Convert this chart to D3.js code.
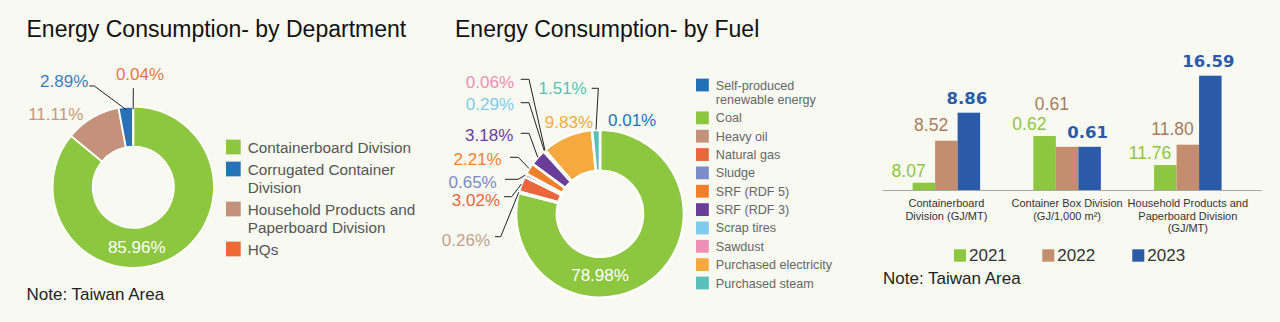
<!DOCTYPE html>
<html>
<head>
<meta charset="utf-8">
<script src="https://cdn.jsdelivr.net/npm/d3@7/dist/d3.min.js"></script>
<style>
  html, body { margin: 0; padding: 0; background: #f8f9f1; }
  svg { display: block; font-family: "Liberation Sans", Arial, sans-serif; }
</style>
</head>
<body>
<svg id="chart" width="1280" height="322"></svg>
<script>
// ---- Energy consumption by department (share of total, %) ----
const deptNames = ["Containerboard Division", "Corrugated Container Division", "Household Products and Paperboard Division", "HQs"];
const deptShares = [85.96, 2.89, 11.11, 0.04];
const deptColors = ["#8dc63f", "#2a72b8", "#c4917a", "#ee6a35"];
// clockwise order of the ring starting at 12 o'clock
const deptRingOrder = [0, 2, 1, 3];

// ---- Energy consumption by fuel (share of total, %) ----
const fuelNames = ["Self-produced renewable energy", "Coal", "Heavy oil", "Natural gas", "Sludge", "SRF (RDF 5)", "SRF (RDF 3)", "Scrap tires", "Sawdust", "Purchased electricity", "Purchased steam"];
const fuelShares = [0.01, 78.98, 0.26, 3.02, 0.65, 2.21, 3.18, 0.29, 0.06, 9.83, 1.51];
const fuelColors = ["#2270b8", "#8dc63f", "#c4917a", "#e9673a", "#7b8cc8", "#f07f29", "#6a3d98", "#7ecbec", "#ee8fb5", "#f5a93f", "#5bbfb9"];

// ---- Energy intensity by division ----
const divisions = ["Containerboard\nDivision (GJ/MT)", "Container Box Division\n(GJ/1,000 m²)", "Household Products and\nPaperboard Division\n(GJ/MT)"];
const years = ["2021", "2022", "2023"];
const intensity2021 = [8.07, 0.62, 11.76];
const intensity2022 = [8.52, 0.61, 11.80];
const intensity2023 = [8.86, 0.61, 16.59];
const yearColors = ["#8dc63f", "#c48e6e", "#2b5ba8"];

const svg = d3.select("#chart");
const fmt = v => v.toFixed(2) + "%";

function wrapLines(text, maxW, size) {
  const ctx = document.createElement("canvas").getContext("2d");
  ctx.font = size + "px 'Liberation Sans', Arial, sans-serif";
  const words = text.split(" ");
  const lines = [];
  let cur = "";
  words.forEach(w => {
    const t = cur ? cur + " " + w : w;
    if (ctx.measureText(t).width > maxW && cur) { lines.push(cur); cur = w; }
    else cur = t;
  });
  if (cur) lines.push(cur);
  return lines;
}

// Titles and notes
svg.append("text").attr("x", 26.5).attr("y", 37).attr("font-size", 23).attr("fill", "#111")
  .text("Energy Consumption- by Department");
svg.append("text").attr("x", 455).attr("y", 37).attr("font-size", 23).attr("fill", "#111")
  .text("Energy Consumption- by Fuel");
svg.append("text").attr("x", 26.5).attr("y", 300).attr("font-size", 17).attr("fill", "#222")
  .text("Note: Taiwan Area");
svg.append("text").attr("x", 883).attr("y", 284).attr("font-size", 17).attr("fill", "#222")
  .text("Note: Taiwan Area");

// Generic donut with outside labels and elbow leader lines
function drawDonut(cfg) {
  const g = svg.append("g").attr("transform", `translate(${cfg.cx},${cfg.cy})`);
  const pie = d3.pie().sort(null).value(d => d.value);
  const arc = d3.arc().innerRadius(cfg.r0).outerRadius(cfg.r1);
  const arcs = pie(cfg.data);
  g.selectAll("path").data(arcs).join("path")
    .attr("d", arc)
    .attr("fill", d => d.data.color)
    .attr("stroke", "#fff")
    .attr("stroke-width", cfg.gap)
    .attr("stroke-linejoin", "miter");

  arcs.forEach(a => {
    const lay = cfg.layout[a.data.key];
    if (!lay) return;
    const mid = (a.startAngle + a.endAngle) / 2;
    const tip = [Math.sin(mid) * cfg.leadR, -Math.cos(mid) * cfg.leadR];
    if (lay.leader) {
      const pts = lay.leader.concat([tip]);
      g.append("path")
        .attr("d", d3.line()(pts))
        .attr("fill", "none").attr("stroke", "#222").attr("stroke-width", 1);
    }
    g.append("text")
      .attr("x", lay.x).attr("y", lay.y + 6)
      .attr("text-anchor", lay.anchor || "middle")
      .attr("font-size", 17)
      .attr("fill", lay.inside ? "#fff" : (lay.color || a.data.color))
      .text(fmt(a.data.value));
  });
}

// Legend with square swatches and wrapped labels
function drawLegend(cfg) {
  const g = svg.append("g");
  let y = cfg.y0;
  cfg.names.forEach((name, i) => {
    const lines = wrapLines(name, cfg.maxW, cfg.size);
    g.append("rect")
      .attr("x", cfg.x).attr("y", y - cfg.box / 2)
      .attr("width", cfg.box).attr("height", cfg.box)
      .attr("fill", cfg.colors[i]);
    const t = g.append("text").attr("font-size", cfg.size).attr("fill", cfg.textColor);
    lines.forEach((ln, k) => {
      t.append("tspan").attr("x", cfg.x + cfg.box + cfg.pad)
        .attr("y", y + k * cfg.lineH + cfg.size * 0.36).text(ln);
    });
    y += cfg.rowH + (lines.length - 1) * cfg.lineH;
  });
}

// ---------- Department donut ----------
drawDonut({
  cx: 133.3, cy: 187.2, r0: 40.5, r1: 80.7, gap: 1.8, leadR: 78,
  data: deptRingOrder.map(i => ({ key: deptNames[i], value: deptShares[i], color: deptColors[i] })),
  layout: {
    "Containerboard Division": { x: 3.4, y: 59.5, inside: true },
    "Household Products and Paperboard Division": { x: -50, y: -72.9, anchor: "end", color: "#c9977f" },
    "Corrugated Container Division": { x: -45, y: -106.2, anchor: "end", color: "#3b7ec0",
      leader: [[-44, -101.2], [-39, -101.2]] },
    "HQs": { x: 6.7, y: -113.2, color: "#ef7443", leader: [[0, -99]] }
  }
});

drawLegend({
  names: deptNames, colors: deptColors, x: 226, y0: 147, box: 14.7, pad: 7,
  size: 15.3, lineH: 18, rowH: 22, maxW: 172, textColor: "#555"
});

// ---------- Fuel donut ----------
drawDonut({
  cx: 600, cy: 213.7, r0: 43, r1: 84, gap: 2.6, leadR: 84,
  data: fuelNames.map((n, i) => ({ key: n, value: fuelShares[i], color: fuelColors[i] })),
  layout: {
    "Coal": { x: 0, y: 61.3, inside: true },
    "Self-produced renewable energy": { x: 8, y: -93.7, anchor: "start", color: "#2472b8" },
    "Purchased electricity": { x: -7, y: -92, anchor: "end", color: "#f5a93f" },
    "Purchased steam": { x: -13.3, y: -125.4, anchor: "end", color: "#5bbfb3",
      leader: [[-8.3, -125.4], [-1.7, -125.4]] },
    "Sawdust": { x: -86, y: -132, anchor: "end", color: "#ec8fb3",
      leader: [[-79.3, -134.4], [-71, -134.4]] },
    "Scrap tires": { x: -86, y: -109.4, anchor: "end", color: "#7fcbea",
      leader: [[-79.3, -111], [-71, -111]] },
    "SRF (RDF 3)": { x: -86.7, y: -78.7, anchor: "end", color: "#6a3d98",
      leader: [[-79.3, -80.4], [-71, -80.4]] },
    "SRF (RDF 5)": { x: -98.3, y: -54.4, anchor: "end", color: "#f08030",
      leader: [[-90, -56.4], [-81.7, -56.4]] },
    "Sludge": { x: -103.3, y: -32, anchor: "end", color: "#7a8bc6",
      leader: [[-95, -34.4], [-82, -34.4]] },
    "Natural gas": { x: -100, y: -13.7, anchor: "end", color: "#e9673a",
      leader: [[-96, -17], [-88.3, -17]] },
    "Heavy oil": { x: -110, y: 26.3, anchor: "end", color: "#c4a08c",
      leader: [[-105, 23], [-99.3, 23]] }
  }
});

drawLegend({
  names: fuelNames, colors: fuelColors, x: 696, y0: 85, box: 12.8, pad: 7,
  size: 12.6, lineH: 14.5, rowH: 18.35, maxW: 125, textColor: "#666"
});

// ---------- Intensity bars ----------
const barBase = 190;
const x0 = d3.scaleBand().domain(divisions).range([886, 1248.2]);
const x1 = d3.scaleBand().domain(years).range([-33.75, 33.75]);
// each division is measured in its own unit, so each gets its own value axis
const yScales = [
  d3.scaleLinear().domain([7.992, 8.52, 8.86]).range([barBase, barBase - 49.3, barBase - 77.3]),
  d3.scaleLinear().domain([0.57, 0.62]).range([barBase, barBase - 54]),
  d3.scaleLinear().domain([11.711, 11.80, 16.59]).range([barBase, barBase - 45.3, barBase - 114.3])
];
const series = [intensity2021, intensity2022, intensity2023];
const labelStyle = [
  { color: "#8dc63f", gap: 6, dx: -4, bold: false },
  { color: "#a97c5e", gap: 10, dx: -4, bold: false },
  { color: "#2b5ba8", gap: 9, dx: null, bold: true }
];

const bars = svg.append("g");
divisions.forEach((div, gi) => {
  const cx = x0(div) + x0.bandwidth() / 2;
  const placed = [];
  years.forEach((yr, si) => {
    const v = series[si][gi];
    const bx = cx + x1(yr);
    const by = yScales[gi](v);
    bars.append("rect")
      .attr("x", bx).attr("y", by)
      .attr("width", x1.bandwidth()).attr("height", barBase - by)
      .attr("fill", yearColors[si]);

    const st = labelStyle[si];
    const lx = st.dx === null ? bx + x1.bandwidth() / 2 - 2 : bx + st.dx;
    let ly = by - st.gap;
    const t = bars.append("text")
      .attr("x", lx).attr("text-anchor", "middle")
      .attr("fill", st.color)
      .attr("font-size", st.bold ? 16.5 : 17.5)
      .attr("font-family", st.bold ? "'DejaVu Sans', sans-serif" : null)
      .attr("font-weight", st.bold ? "bold" : null)
      .text(v.toFixed(2));
    const w = t.node().getComputedTextLength();
    // lift a label above any earlier one it would collide with
    placed.forEach(p => {
      const overlapX = Math.abs(p.x - lx) < (p.w + w) / 2;
      const overlapY = Math.abs(p.y - ly) < 14;
      if (overlapX && overlapY) ly = p.y - 20;
    });
    t.attr("y", ly);
    placed.push({ x: lx, y: ly, w });
  });

  // category label
  const t = bars.append("text").attr("text-anchor", "middle").attr("font-size", 11).attr("fill", "#333");
  div.split("\n").forEach((ln, k) => {
    t.append("tspan").attr("x", cx).attr("y", 207.3 + k * 12.5).text(ln);
  });
});

bars.append("line")
  .attr("x1", 882.7).attr("x2", 1261.7)
  .attr("y1", barBase + 0.5).attr("y2", barBase + 0.5)
  .attr("stroke", "#a8a8a8").attr("stroke-width", 1);

// year legend
const yl = svg.append("g");
const legendX = [954, 1042.3, 1132.3];
years.forEach((yr, i) => {
  yl.append("rect").attr("x", legendX[i]).attr("y", 249.3).attr("width", 12).attr("height", 12.4)
    .attr("fill", yearColors[i]);
  yl.append("text").attr("x", legendX[i] + 15).attr("y", 261.3).attr("font-size", 17).attr("fill", "#333")
    .text(yr);
});
</script>
</body>
</html>
